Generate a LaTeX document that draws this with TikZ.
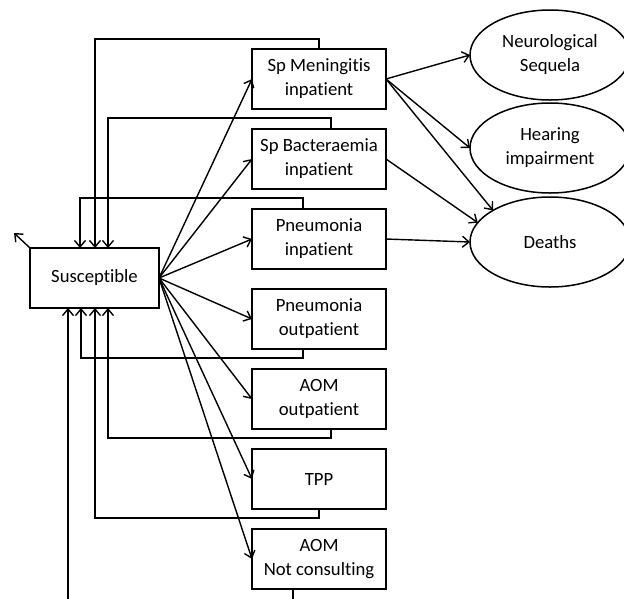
\documentclass[tikz,border=0pt]{standalone}
\usepackage{fontspec}
\setmainfont{Carlito}[Ligatures=NoCommon]
\usetikzlibrary{arrows.meta,shapes.geometric}
\begin{document}
\begin{tikzpicture}[x=1pt,y=-1pt,
  every node/.style={font=\fontsize{18.7}{24}\selectfont, outer sep=0pt},
  box/.style={draw, line width=1.5pt, minimum width=134pt, minimum height=60pt, align=center, inner sep=0pt},
  oval/.style={draw, ellipse, line width=1.5pt, minimum width=160pt, minimum height=90pt, align=center, inner sep=0pt},
  arr/.style={line width=1.4pt, -{Straight Barb[length=6.5pt,width=11pt]}}]
\useasboundingbox (0,0) rectangle (624,598);
\clip (0,0) rectangle (624,598);
\node[box, minimum width=129pt] (sus) at (94.5,278) {Susceptible};
\node[box] (men) at (319,79) {Sp Meningitis\\inpatient};
\node[box] (bac) at (319,159) {Sp Bacteraemia\\inpatient};
\node[box] (pin) at (319,239) {Pneumonia\\inpatient};
\node[box] (pout) at (319,319) {Pneumonia\\outpatient};
\node[box] (aout) at (319,399) {AOM\\outpatient};
\node[box] (tpp) at (319,479) {TPP};
\node[box] (nc) at (319,559) {AOM\\Not consulting};
\node[oval] (neu) at (550,55) {Neurological\\Sequela};
\node[oval] (hear) at (550,148) {Hearing\\impairment};
\node[oval] (dea) at (550,242) {Deaths};

\foreach \n in {men,bac,pin,pout,aout,tpp,nc}
  \draw[arr] (sus.east) -- (\n.west);

\draw[arr] (men.north) -- ++(0,-10) -| ([xshift=0.5pt]sus.north);
\draw[arr] ([xshift=12pt]bac.north) -- ++(0,-11) -| ([xshift=13.5pt]sus.north);
\draw[arr] ([xshift=-16pt]pin.north) -- ++(0,-11) -| ([xshift=-14.5pt]sus.north);
\draw[arr] ([xshift=-16pt]pout.south) -- ++(0,9) -| ([xshift=-13.5pt]sus.south);
\draw[arr] ([xshift=12pt]aout.south) -- ++(0,9) -| ([xshift=13.5pt]sus.south);
\draw[arr] (tpp.south) -- ++(0,9) -| ([xshift=0.5pt]sus.south);
\draw[arr] ([xshift=-26pt]nc.south) -- ++(0,20) -| ([xshift=-26.5pt]sus.south);

\draw[arr] (sus.north west) -- ++(-16,-15);

\draw[arr] (men.east) -- (neu.west);
\draw[arr] (men.east) -- (hear.west);
\draw[arr] (men.east) -- (dea.151);
\draw[arr] (bac.east) -- (dea.165);
\draw[arr] (pin.east) -- (dea.west);
\end{tikzpicture}
\end{document}
